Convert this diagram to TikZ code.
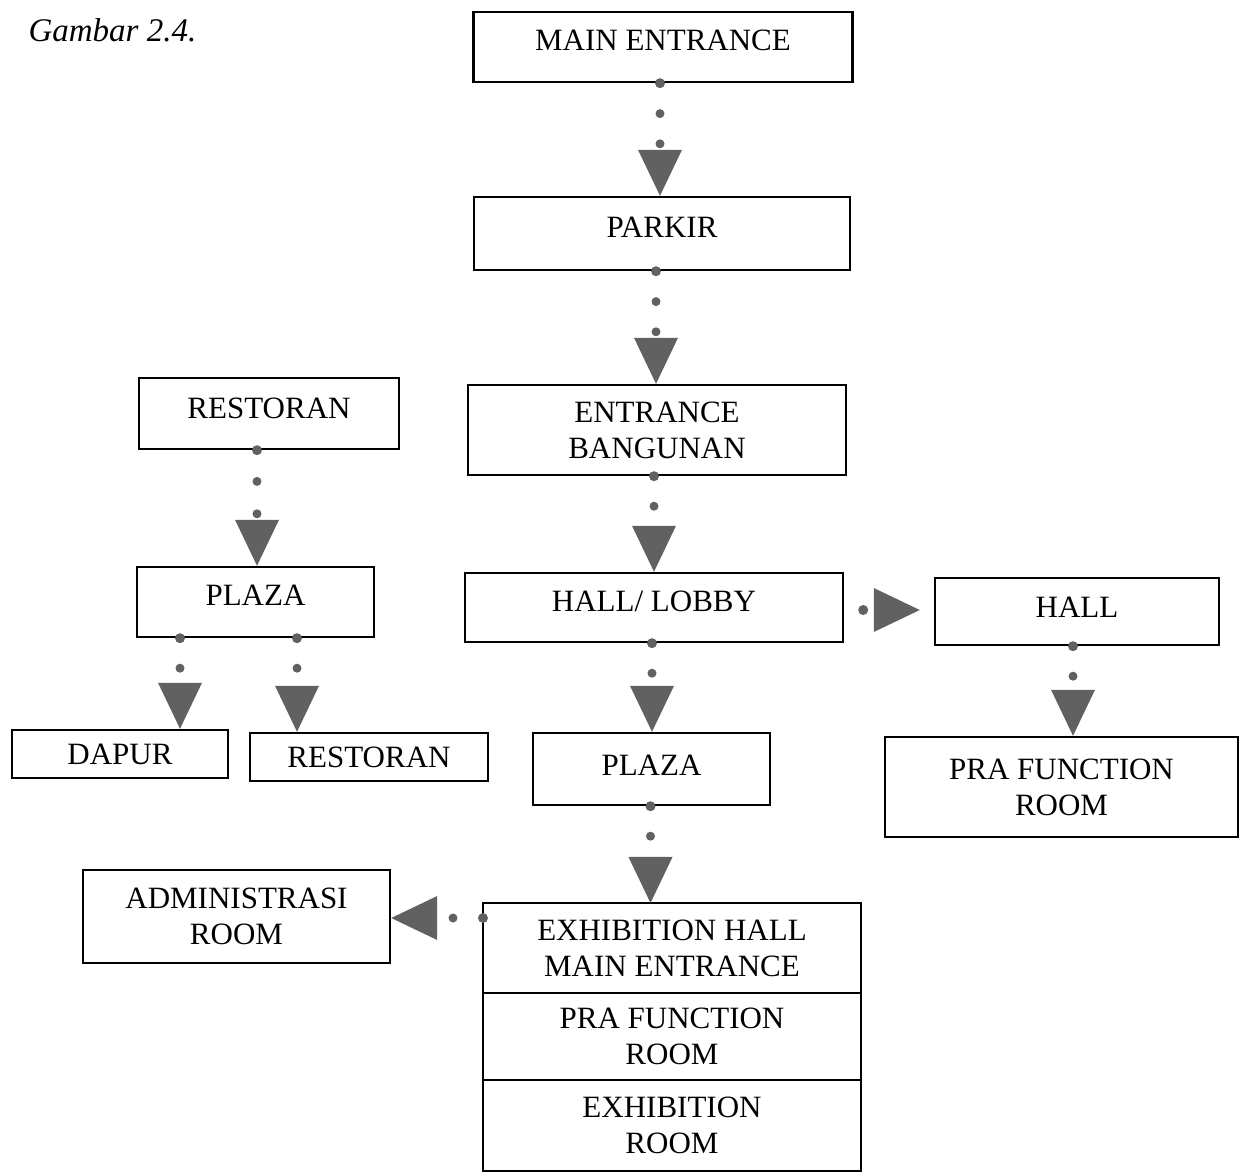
\documentclass[tikz,border=0pt]{standalone}
\usepackage{fontspec}
\setmainfont{Liberation Serif}
\usetikzlibrary{decorations.markings,calc}
\begin{document}
\begin{tikzpicture}[x=1pt,y=-1pt,
  box/.style={draw=black, line width=2.4pt, align=center, inner sep=0pt,
    font=\fontsize{31}{36}\selectfont},
  plain/.style={align=center, inner sep=0pt, outer sep=0pt,
    font=\fontsize{31}{36}\selectfont},
  flow/.style={decorate, decoration={markings,
    mark=at position 0pt with {\fill[black!62] (0,0) circle (5pt);},
    mark=at position 0.27 with {\fill[black!62] (0,0) circle (4.5pt);},
    mark=at position -52pt with {\fill[black!62] (0,0) circle (4.5pt);},
    mark=at position 0.9999 with {\fill[black!62] (0pt,0pt) -- (-46pt,22pt) -- (-46pt,-22pt) -- cycle;}}},
  shortflow/.style={decorate, decoration={markings,
    mark=at position 0pt with {\fill[black!62] (0,0) circle (5pt);},
    mark=at position 30pt with {\fill[black!62] (0,0) circle (4.5pt);},
    mark=at position 0.9999 with {\fill[black!62] (0pt,0pt) -- (-46pt,22pt) -- (-46pt,-22pt) -- cycle;}}},
  oneflow/.style={decorate, decoration={markings,
    mark=at position 19pt with {\fill[black!62] (0,0) circle (5pt);},
    mark=at position 0.9999 with {\fill[black!62] (0pt,0pt) -- (-46pt,22pt) -- (-46pt,-22pt) -- cycle;}}}
]
\useasboundingbox (0,0) rectangle (1245,1175);
\node[anchor=base west, font=\fontsize{33}{38}\selectfont\itshape] (title) at (25,41) {Gambar 2.4.};
% main column
\node[box, minimum width=379pt, minimum height=70pt, text depth=13pt] (me) at (663,47) {MAIN ENTRANCE};
\node[box, minimum width=376pt, minimum height=73pt, text depth=12pt] (parkir) at (662,233.5) {PARKIR};
\node[box, minimum width=378pt, minimum height=90pt] (ent) at (657,430) {ENTRANCE\\BANGUNAN};
\node[box, minimum width=378pt, minimum height=69pt, text depth=12pt] (lobby) at (654,607.5) {HALL/ LOBBY};
\node[box, minimum width=237pt, minimum height=72pt, text depth=8pt] (plazaC) at (651.5,769) {PLAZA};
\node[plain, minimum width=378pt, minimum height=90pt] (exh1) at (672,948) {EXHIBITION HALL\\MAIN ENTRANCE};
\node[plain, minimum width=378pt, minimum height=87pt] (exh2) at (672,1036.5) {PRA FUNCTION\\ROOM};
\node[plain, minimum width=378pt, minimum height=91pt] (exh3) at (672,1125.5) {EXHIBITION\\ROOM};
\draw[line width=2.4pt] (exh1.north west) rectangle (exh3.south east);
\draw[line width=2pt] (exh1.south west) -- (exh1.south east);
\draw[line width=2pt] (exh2.south west) -- (exh2.south east);
% left
\node[box, minimum width=260pt, minimum height=71pt, text depth=10pt] (restA) at (269,413.5) {RESTORAN};
\node[box, minimum width=237pt, minimum height=70pt, text depth=14pt] (plazaL) at (255.5,602) {PLAZA};
\node[box, minimum width=216pt, minimum height=48pt] (dapur) at (120,754) {DAPUR};
\node[box, minimum width=238pt, minimum height=48pt] (restB) at (369,757) {RESTORAN};
\node[box, minimum width=307pt, minimum height=93pt] (admin) at (236.5,916.5) {ADMINISTRASI\\ROOM};
% right
\node[box, minimum width=284pt, minimum height=67pt, text depth=8pt] (hall) at (1077,611.5) {HALL};
\node[box, minimum width=353pt, minimum height=100pt] (pra) at (1061.5,787) {PRA FUNCTION\\ROOM};
% connector start points
\coordinate (s1) at ([xshift=-3pt]me.south);
\coordinate (s2) at ([xshift=-6pt]parkir.south);
\coordinate (s3) at ([xshift=-3pt]ent.south);
\coordinate (s4) at ([xshift=-2pt]lobby.south);
\coordinate (s5) at ([xshift=-21.5pt]exh1.north);
\coordinate (s6) at ([xshift=-12pt]restA.south);
\coordinate (s7) at ([xshift=-75.5pt]plazaL.south);
\coordinate (s8) at ([xshift=41.5pt]plazaL.south);
\coordinate (s9) at ([yshift=-2.5pt]lobby.east);
\coordinate (e9) at ([xshift=-14pt]s9 -| hall.west);
\coordinate (s10) at ([xshift=-4pt]hall.south);
\coordinate (s11) at ([yshift=30pt]exh1.west);
% connectors
\path[flow] (s1) -- (s1 |- parkir.north);
\path[flow] (s2) -- (s2 |- ent.north);
\path[shortflow] (s3) -- (s3 |- lobby.north);
\path[shortflow] (s4) -- (s4 |- plazaC.north);
\path[shortflow] (plazaC.south -| s5) -- (s5);
\path[flow] (s6) -- (s6 |- plazaL.north);
\path[shortflow] (s7) -- (s7 |- dapur.north);
\path[shortflow] (s8) -- (s8 |- restB.north);
\path[oneflow] (s9) -- (e9);
\path[shortflow] (s10) -- (s10 |- pra.north);
\path[shortflow] (s11) -- (s11 -| admin.east);
\end{tikzpicture}
\end{document}
